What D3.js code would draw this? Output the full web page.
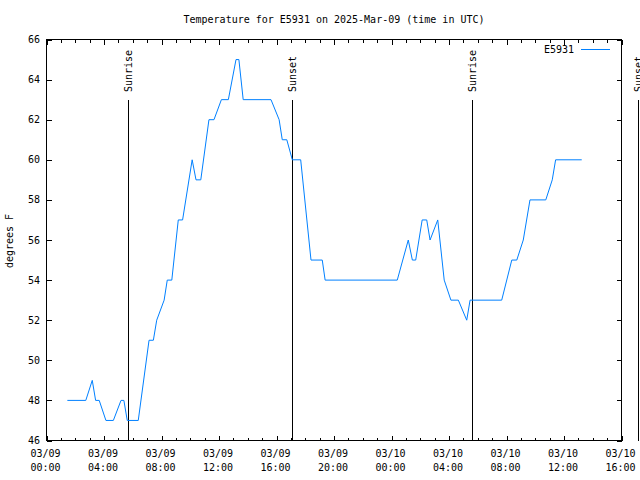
<!DOCTYPE html>
<html>
<head>
<meta charset="utf-8">
<script src="https://cdn.jsdelivr.net/npm/d3@7"></script>
<style>
  html, body { margin: 0; padding: 0; background: #fff; }
  text { font-family: "DejaVu Sans Mono", "Liberation Mono", monospace; font-size: 10px; fill: #000; }
</style>
</head>
<body>
<svg id="chart" width="640" height="480"></svg>
<script>
// ---- data ----
const title = "Temperature for E5931 on 2025-Mar-09 (time in UTC)";
const seriesName = "E5931";
const yLabel = "degrees F";
const times = [
  "2025-03-09T01:27","2025-03-09T02:44","2025-03-09T03:11","2025-03-09T03:25","2025-03-09T03:40",
  "2025-03-09T04:08","2025-03-09T04:39","2025-03-09T05:11","2025-03-09T05:23","2025-03-09T05:37",
  "2025-03-09T06:23","2025-03-09T07:08","2025-03-09T07:26","2025-03-09T07:40","2025-03-09T08:11",
  "2025-03-09T08:24","2025-03-09T08:43","2025-03-09T09:10","2025-03-09T09:28","2025-03-09T10:08",
  "2025-03-09T10:24","2025-03-09T10:44","2025-03-09T11:18","2025-03-09T11:39","2025-03-09T12:10",
  "2025-03-09T12:39","2025-03-09T13:11","2025-03-09T13:23","2025-03-09T13:41","2025-03-09T15:37",
  "2025-03-09T16:11","2025-03-09T16:24","2025-03-09T16:43","2025-03-09T17:06","2025-03-09T17:41",
  "2025-03-09T18:24","2025-03-09T19:11","2025-03-09T19:23","2025-03-10T00:24","2025-03-10T01:10",
  "2025-03-10T01:27","2025-03-10T01:41","2025-03-10T02:08","2025-03-10T02:27","2025-03-10T02:41",
  "2025-03-10T03:13","2025-03-10T03:40","2025-03-10T04:08","2025-03-10T04:39","2025-03-10T05:14",
  "2025-03-10T05:28","2025-03-10T07:40","2025-03-10T08:22","2025-03-10T08:43","2025-03-10T09:10",
  "2025-03-10T09:38","2025-03-10T10:44","2025-03-10T11:11","2025-03-10T11:25","2025-03-10T13:14"
];
const temps = [
  48,48,49,48,48,
  47,47,48,48,47,
  47,51,51,52,53,
  54,54,57,57,60,
  59,59,62,62,63,
  63,65,65,63,63,
  62,61,61,60,60,
  55,55,54,54,56,
  55,55,57,57,56,
  57,54,53,53,52,
  53,53,55,55,56,
  58,58,59,60,60
];
const sunEventNames = ["Sunrise","Sunset","Sunrise","Sunset"];
const sunEventTimes = ["2025-03-09T05:41","2025-03-09T17:06","2025-03-10T05:37","2025-03-10T17:09"];
const sunEventLevel = 63;
const xDomain = ["2025-03-09T00:00","2025-03-10T16:00"];
const yDomain = [46, 66];
const yTickValues = [46,48,50,52,54,56,58,60,62,64,66];

// ---- drawing ----
const parse = s => new Date(s + ":00Z");
const svg = d3.select("#chart");
const L = 46.5, R = 621.5, T = 39.5, B = 440.5;

const x = d3.scaleUtc().domain(xDomain.map(parse)).range([L, R]);
const y = d3.scaleLinear().domain(yDomain).range([B, T]);

const fmtDate = d3.utcFormat("%m/%d");
const fmtTime = d3.utcFormat("%H:%M");
const majorTicks = d3.utcHour.every(4).range(x.domain()[0], d3.utcHour.offset(x.domain()[1], 1));
const minorTicks = d3.utcHour.every(1).range(x.domain()[0], d3.utcHour.offset(x.domain()[1], 1));

// Axes via d3.axis (bottom/top, left/right) for tick marks
const gAx = svg.append("g").attr("shape-rendering", "crispEdges");
const mk = (axis, tr) => {
  const g = gAx.append("g").attr("transform", tr).call(axis);
  g.select(".domain").remove();
  g.selectAll("text").remove();
  g.selectAll("line").attr("stroke", "#000");
  return g;
};
mk(d3.axisBottom(x).tickValues(minorTicks).tickSizeInner(-3).tickSizeOuter(0), `translate(0,${B})`);
mk(d3.axisBottom(x).tickValues(majorTicks).tickSizeInner(-5).tickSizeOuter(0), `translate(0,${B})`);
mk(d3.axisTop(x).tickValues(minorTicks).tickSizeInner(-3).tickSizeOuter(0), `translate(0,${T})`);
mk(d3.axisTop(x).tickValues(majorTicks).tickSizeInner(-5).tickSizeOuter(0), `translate(0,${T})`);
mk(d3.axisLeft(y).tickValues(yTickValues).tickSizeInner(-5).tickSizeOuter(0), `translate(${L},0)`);
mk(d3.axisRight(y).tickValues(yTickValues).tickSizeInner(-5).tickSizeOuter(0), `translate(${R},0)`);

// frame
gAx.append("rect").attr("x", L).attr("y", T).attr("width", R - L).attr("height", B - T)
  .attr("fill", "none").attr("stroke", "#000");

// y tick labels
svg.append("g").selectAll("text").data(yTickValues).join("text")
  .attr("x", 40).attr("y", d => y(d)).attr("dy", "0.35em")
  .attr("text-anchor", "end").text(d => d);

// x tick labels (two lines)
const xl = svg.append("g").selectAll("g").data(majorTicks).join("g");
xl.append("text").attr("x", d => x(d) - 1).attr("y", 457).attr("text-anchor", "middle").text(d => fmtDate(d));
xl.append("text").attr("x", d => x(d) - 1).attr("y", 471).attr("text-anchor", "middle").text(d => fmtTime(d));

// title
svg.append("text").attr("x", 334).attr("y", 23).attr("text-anchor", "middle").text(title);

// y label
svg.append("text").attr("transform", "translate(13,241) rotate(-90)").attr("text-anchor", "middle").text(yLabel);

// sun events
const ev = svg.append("g").selectAll("g").data(sunEventTimes.map((t, i) => ({t: parse(t), name: sunEventNames[i]}))).join("g");
ev.append("line")
  .attr("x1", d => Math.round(x(d.t)) + 0.5).attr("x2", d => Math.round(x(d.t)) + 0.5)
  .attr("y1", y(sunEventLevel)).attr("y2", B)
  .attr("stroke", "#000").attr("shape-rendering", "crispEdges");
ev.append("text")
  .attr("transform", d => `translate(${Math.round(x(d.t)) + 4},92) rotate(-90)`)
  .attr("text-anchor", "start").text(d => d.name);

// data line
const data = times.map((t, i) => ({t: parse(t), v: temps[i]}));
svg.append("path").datum(data)
  .attr("d", d3.line().x(d => x(d.t)).y(d => y(d.v)))
  .attr("fill", "none").attr("stroke", "#0080ff").attr("stroke-width", 1);

// legend
svg.append("text").attr("x", 574).attr("y", 53).attr("text-anchor", "end").text(seriesName);
svg.append("line").attr("x1", 581).attr("x2", 610).attr("y1", 49.5).attr("y2", 49.5)
  .attr("stroke", "#0080ff").attr("shape-rendering", "crispEdges");
</script>
</body>
</html>
